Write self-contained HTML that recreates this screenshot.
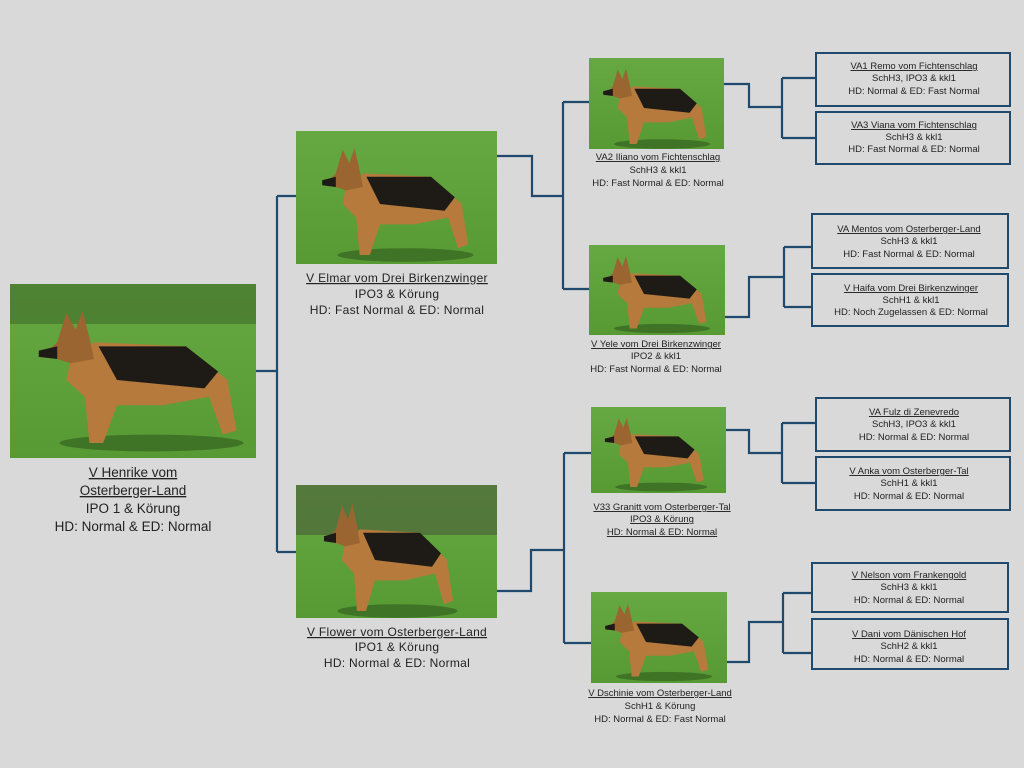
<!DOCTYPE html>
<html><head><meta charset="utf-8"><style>
html,body{margin:0;padding:0;background:#d9d9d9;}
body{width:1024px;height:768px;position:relative;overflow:hidden;font-family:"Liberation Sans",sans-serif;color:#222;}
svg{position:absolute;left:0;top:0}
</style></head><body>
<svg width="1024" height="768" viewBox="0 0 1024 768">
<defs>
<linearGradient id="g" x1="0" y1="0" x2="0" y2="1"><stop offset="0" stop-color="#66a842"/><stop offset="1" stop-color="#579a34"/></linearGradient>
<g id="dog">
<ellipse cx="55" cy="70" rx="40" ry="4" fill="#2e5a1c" opacity=".6"/>
<path d="M20 30 L30 22 L70 24 L88 40 L92 64 L86 66 L80 48 L70 50 L60 52 L40 52 L34 70 L28 70 L26 48 L18 40 Z" fill="#b57a3c"/>
<path d="M32 24 L70 24 L84 36 L78 44 L40 40 Z" fill="#1e1a16"/>
<path d="M14 22 L18 8 L22 16 L25 7 L28 20 L30 30 L20 32 L8 28 Z" fill="#9a6530"/>
<path d="M6 26 L14 24 L14 30 L6 29Z" fill="#1e1a16"/>
</g>
</defs>
<g fill="url(#g)">
<rect x="10" y="284" width="246" height="174"/>
<rect x="296" y="131" width="201" height="133"/>
<rect x="296" y="485" width="201" height="133"/>
<rect x="589" y="58" width="135" height="91"/>
<rect x="589" y="245" width="136" height="90"/>
<rect x="591" y="407" width="135" height="86"/>
<rect x="591" y="592" width="136" height="91"/>
</g>
<rect x="10" y="284" width="246" height="40" fill="#3f6b2a" opacity=".6"/>
<rect x="296" y="485" width="201" height="50" fill="#4a5a3a" opacity=".6"/>
<g>
<use href="#dog" transform="translate(25,296) scale(2.3,2.1)"/>
<use href="#dog" transform="translate(312,136) scale(1.7,1.7)"/>
<use href="#dog" transform="translate(315,492) scale(1.5,1.7)"/>
<use href="#dog" transform="translate(596,60) scale(1.2,1.2)"/>
<use href="#dog" transform="translate(596,248) scale(1.2,1.15)"/>
<use href="#dog" transform="translate(598,410) scale(1.15,1.1)"/>
<use href="#dog" transform="translate(598,596) scale(1.2,1.15)"/>
</g>
<g fill="none" stroke="#1f4a6e" stroke-width="2.2">
<path d="M256 371 H277 M277 196 V552 M277 196 H296 M277 552 H296"/>
<path d="M497 156 H532 V196 H563 M563 102 V289 M563 102 H589 M563 289 H589"/>
<path d="M724 84 H749 V107 H782 M782 78 V138 M782 78 H816 M782 138 H816"/>
<path d="M725 317 H749 V277 H784 M784 247 V307 M784 247 H812 M784 307 H812"/>
<path d="M497 591 H531 V550 H564 M564 453 V643 M564 453 H591 M564 643 H591"/>
<path d="M726 430 H749 V453 H782 M782 423 V483 M782 423 H816 M782 483 H816"/>
<path d="M727 662 H749 V622 H783 M783 593 V653 M783 593 H812 M783 653 H812"/>
</g>
<g fill="none" stroke="#1f4a6e" stroke-width="2">
<rect x="816" y="53" width="194" height="53"/>
<rect x="816" y="112" width="194" height="52"/>
<rect x="812" y="214" width="196" height="54"/>
<rect x="812" y="274" width="196" height="52"/>
<rect x="816" y="398" width="194" height="53"/>
<rect x="816" y="457" width="194" height="53"/>
<rect x="812" y="563" width="196" height="49"/>
<rect x="812" y="619" width="196" height="50"/>
</g>
<g text-anchor="middle" font-family="Liberation Sans, sans-serif" fill="#222">
<g font-size="13.5">
<text x="133" y="477" text-decoration="underline">V Henrike vom</text>
<text x="133" y="495" text-decoration="underline">Osterberger-Land</text>
<text x="133" y="513">IPO 1 &amp; Körung</text>
<text x="133" y="531">HD: Normal &amp; ED: Normal</text>
</g>
<g font-size="12" letter-spacing="0.3">
<text x="397" y="282" text-decoration="underline">V Elmar vom Drei Birkenzwinger</text>
<text x="397" y="298">IPO3 &amp; Körung</text>
<text x="397" y="314">HD: Fast Normal &amp; ED: Normal</text>
<text x="397" y="636" text-decoration="underline">V Flower vom Osterberger-Land</text>
<text x="397" y="651">IPO1 &amp; Körung</text>
<text x="397" y="667">HD: Normal &amp; ED: Normal</text>
</g>
<g font-size="9.5">
<text x="658" y="160" text-decoration="underline">VA2 Iliano vom Fichtenschlag</text>
<text x="658" y="173">SchH3 &amp; kkl1</text>
<text x="658" y="186">HD: Fast Normal &amp; ED: Normal</text>
<text x="656" y="347" text-decoration="underline">V Yele vom Drei Birkenzwinger</text>
<text x="656" y="359">IPO2 &amp; kkl1</text>
<text x="656" y="372">HD: Fast Normal &amp; ED: Normal</text>
<text x="662" y="510" text-decoration="underline">V33 Granitt vom Osterberger-Tal</text>
<text x="662" y="522" text-decoration="underline">IPO3 &amp; Körung</text>
<text x="662" y="535" text-decoration="underline">HD: Normal &amp; ED: Normal</text>
<text x="660" y="696" text-decoration="underline">V Dschinie vom Osterberger-Land</text>
<text x="660" y="709">SchH1 &amp; Körung</text>
<text x="660" y="722">HD: Normal &amp; ED: Fast Normal</text>

<text x="914" y="69" text-decoration="underline">VA1 Remo vom Fichtenschlag</text>
<text x="914" y="81">SchH3, IPO3 &amp; kkl1</text>
<text x="914" y="94">HD: Normal &amp; ED: Fast Normal</text>
<text x="914" y="128" text-decoration="underline">VA3 Viana vom Fichtenschlag</text>
<text x="914" y="140">SchH3 &amp; kkl1</text>
<text x="914" y="152">HD: Fast Normal &amp; ED: Normal</text>
<text x="909" y="232" text-decoration="underline">VA Mentos vom Osterberger-Land</text>
<text x="909" y="244">SchH3 &amp; kkl1</text>
<text x="909" y="257">HD: Fast Normal &amp; ED: Normal</text>
<text x="911" y="291" text-decoration="underline">V Haifa vom Drei Birkenzwinger</text>
<text x="911" y="303">SchH1 &amp; kkl1</text>
<text x="911" y="315">HD: Noch Zugelassen &amp; ED: Normal</text>
<text x="914" y="415" text-decoration="underline">VA Fulz di Zenevredo</text>
<text x="914" y="427">SchH3, IPO3 &amp; kkl1</text>
<text x="914" y="440">HD: Normal &amp; ED: Normal</text>
<text x="909" y="474" text-decoration="underline">V Anka vom Osterberger-Tal</text>
<text x="909" y="486">SchH1 &amp; kkl1</text>
<text x="909" y="499">HD: Normal &amp; ED: Normal</text>
<text x="909" y="578" text-decoration="underline">V Nelson vom Frankengold</text>
<text x="909" y="590">SchH3 &amp; kkl1</text>
<text x="909" y="603">HD: Normal &amp; ED: Normal</text>
<text x="909" y="637" text-decoration="underline">V Dani vom Dänischen Hof</text>
<text x="909" y="649">SchH2 &amp; kkl1</text>
<text x="909" y="662">HD: Normal &amp; ED: Normal</text>
</g>
</g>
</svg>
</body></html>
